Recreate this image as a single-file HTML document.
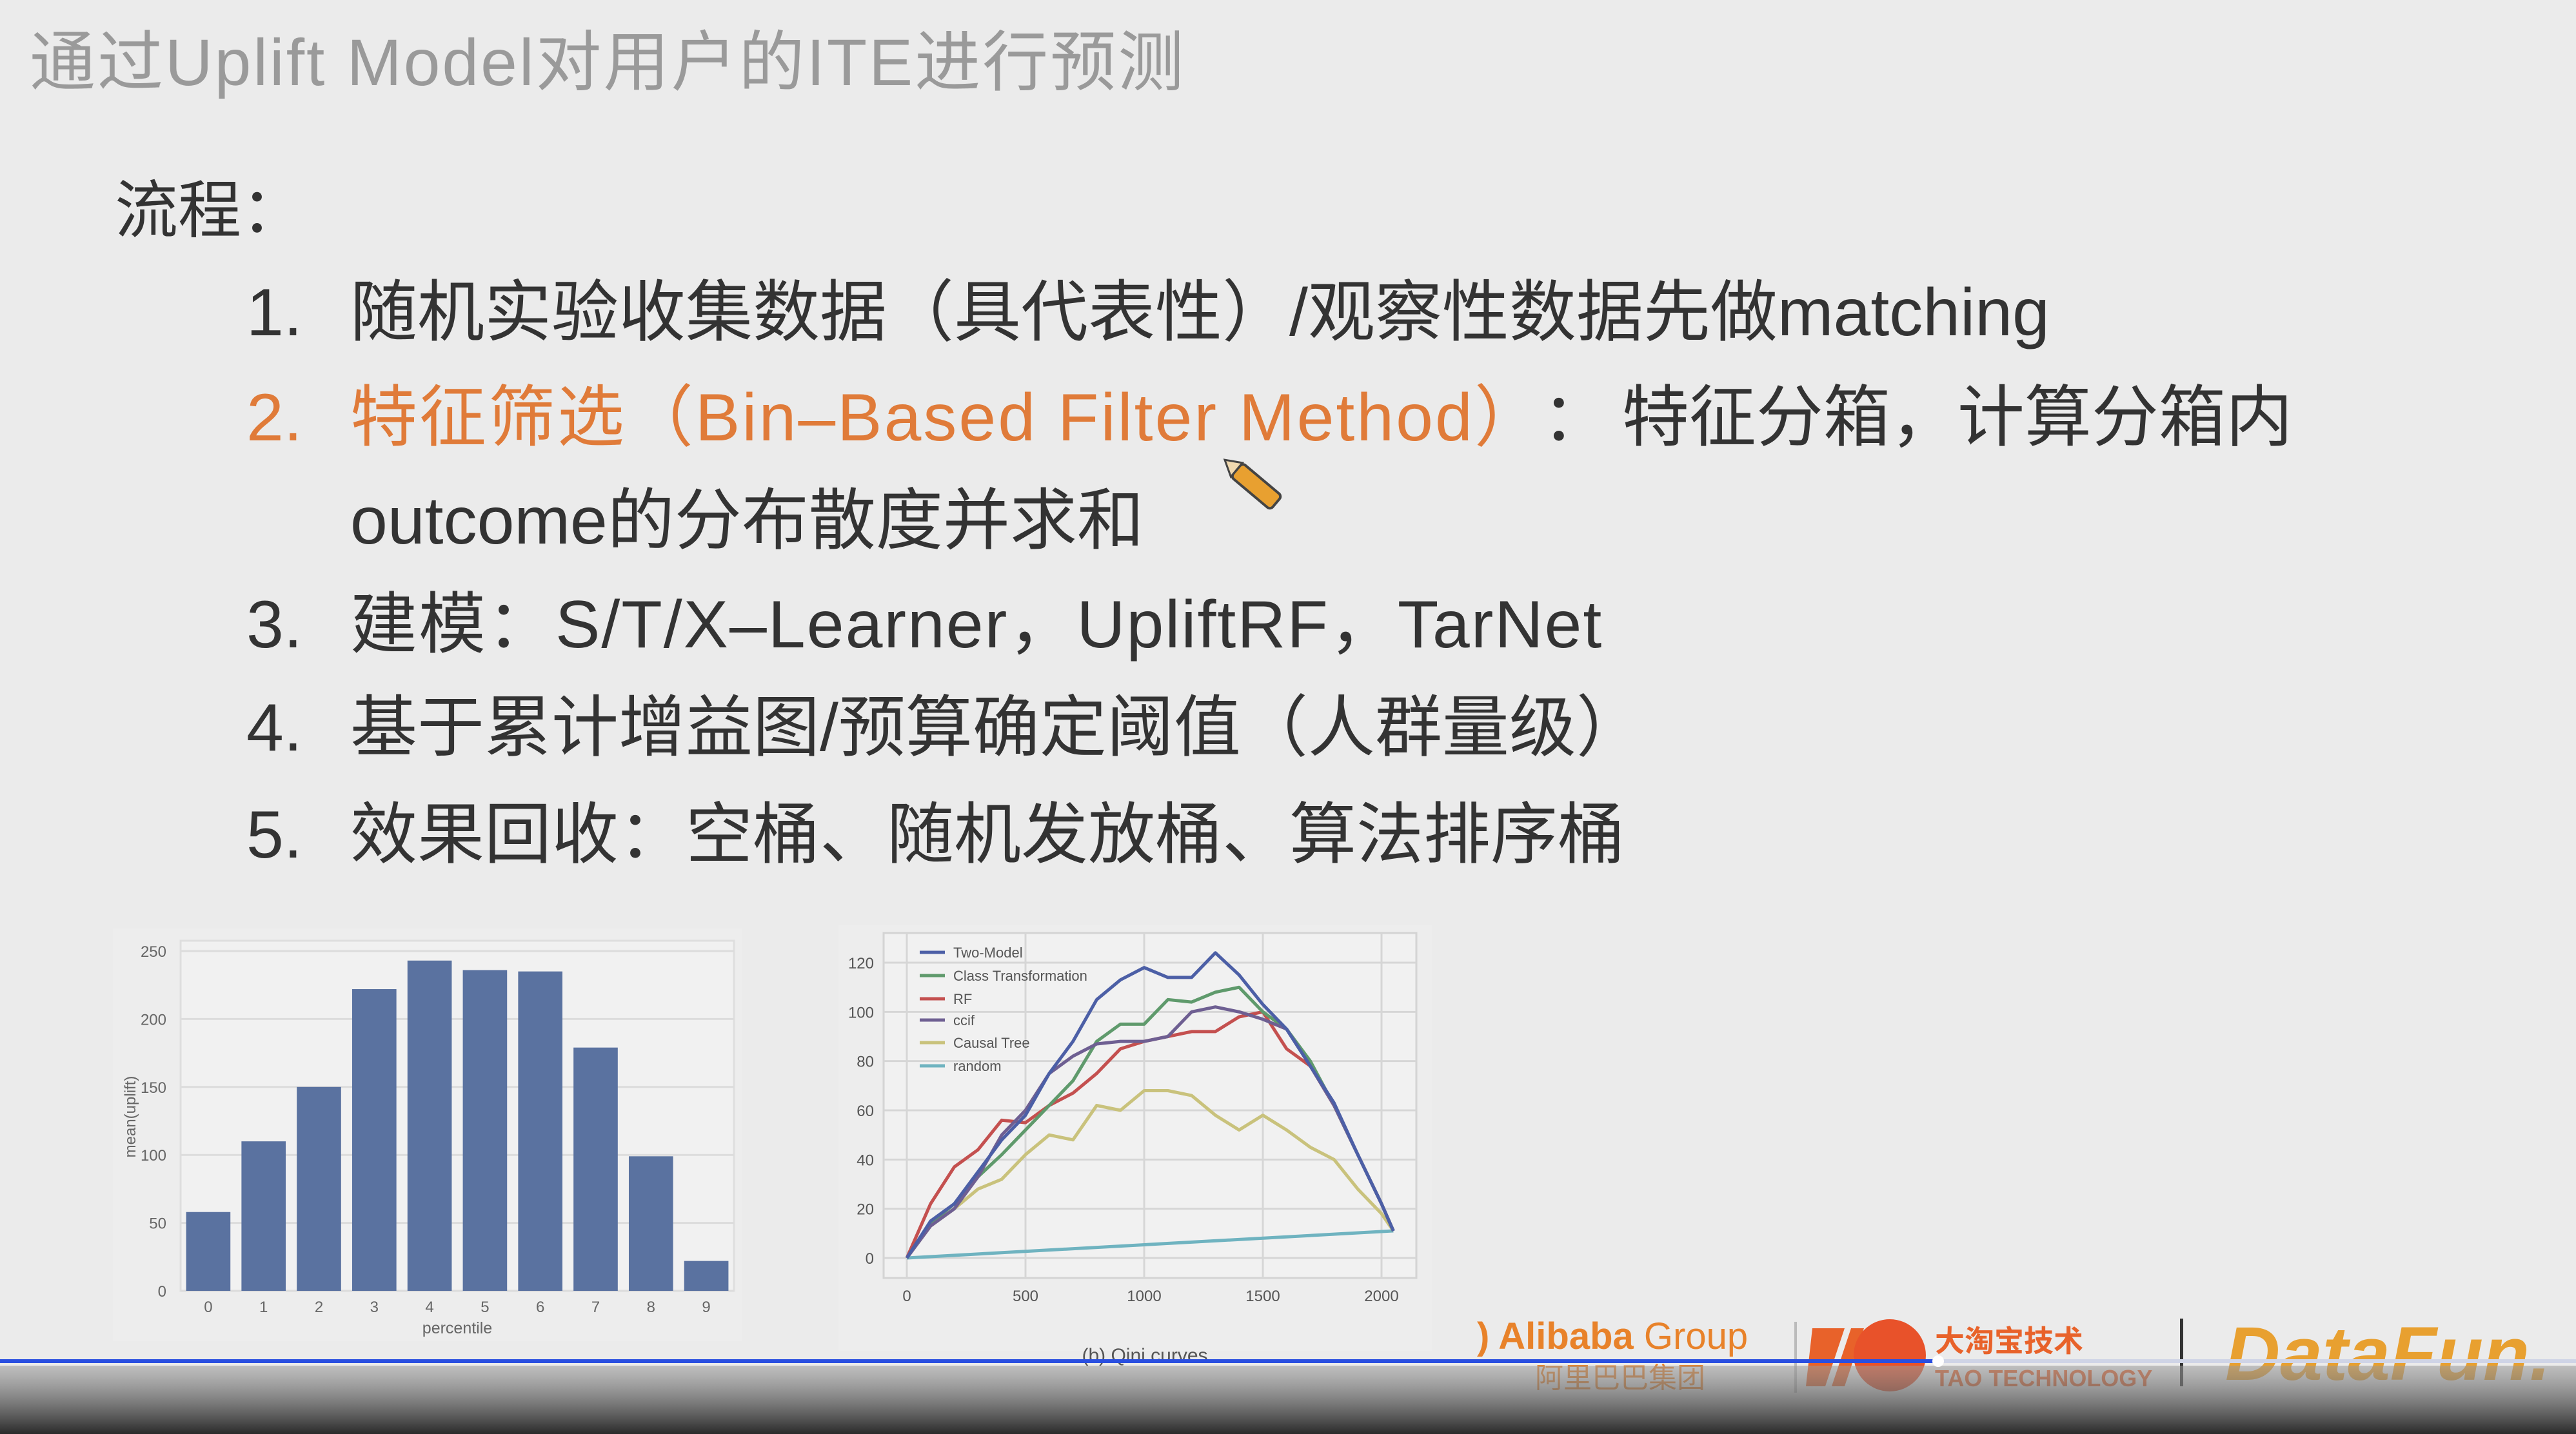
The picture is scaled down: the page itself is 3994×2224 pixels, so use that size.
<!DOCTYPE html>
<html><head><meta charset="utf-8"><style>
html,body{margin:0;padding:0;background:#ebebeb;}
svg{display:block;}
text{font-family:"Liberation Sans","Noto Sans CJK SC",sans-serif;}
</style></head><body>
<svg id="root" width="3994" height="2224" viewBox="0 0 3994 2224" xmlns="http://www.w3.org/2000/svg">
<defs>
<linearGradient id="bottomGrad" x1="0" y1="0" x2="0" y2="1">
<stop offset="0" stop-color="#9a9a9a" stop-opacity="0.55"/>
<stop offset="1" stop-color="#2a2a2a" stop-opacity="1"/>
</linearGradient>
</defs>
<rect x="0" y="0" width="3994" height="2224" fill="#ebebeb"/>

<text x="46" y="132" font-size="102" letter-spacing="3" fill="#9a9a9a">通过Uplift Model对用户的ITE进行预测</text>
<text x="178" y="360" font-size="98" fill="#333">流程：</text>

<g font-size="104" fill="#333">
<text x="382" y="520">1.</text>
<text x="543" y="520">随机实验收集数据（具代表性）/观察性数据先做matching</text>
<text x="382" y="683" fill="#e07b39">2.</text>
<text x="543" y="683"><tspan fill="#e07b39" letter-spacing="3">特征筛选（Bin–Based Filter Method）</tspan><tspan dx="50">：</tspan><tspan dx="20">特征分箱，计算分箱内</tspan></text>
<text x="543" y="843">outcome的分布散度并求和</text>
<text x="382" y="1004">3.</text>
<text x="543" y="1004" letter-spacing="2">建模：S/T/X–Learner，UpliftRF，TarNet</text>
<text x="382" y="1164">4.</text>
<text x="543" y="1164">基于累计增益图/预算确定阈值（人群量级）</text>
<text x="382" y="1330">5.</text>
<text x="543" y="1330">效果回收：空桶、随机发放桶、算法排序桶</text>
</g>
<g transform="translate(1925,735) rotate(40)">
<rect x="-10" y="-14" width="80" height="28" rx="6" fill="#e8a030" stroke="#444" stroke-width="4"/>
<polygon points="-10,-14 -34,0 -10,14" fill="#f0d9b0" stroke="#444" stroke-width="3"/>
</g>

<!-- bar chart -->
<rect x="175" y="1440" width="975" height="640" fill="#ededed"/>
<g id="barChart"></g>

<!-- qini chart -->
<rect x="1300" y="1435" width="920" height="660" fill="#ededed"/>
<g id="qiniChart"></g>
<text x="1775" y="2112" font-size="30" fill="#555" text-anchor="middle" font-family="Liberation Serif,serif">(b) Qini curves</text>

<!-- logos -->
<g>
<text x="2290" y="2092" font-size="58" font-weight="bold" fill="#e8822a">) Alibaba <tspan font-weight="normal">Group</tspan></text>
<text x="2380" y="2152" font-size="44" fill="#e8822a">阿里巴巴集团</text>
<rect x="2782" y="2050" width="4" height="110" fill="#bbb"/>
<polygon points="2810,2060 2860,2060 2830,2150 2800,2150" fill="#e8622a"/>
<polygon points="2870,2060 2890,2060 2860,2150 2840,2150" fill="#e8622a"/>
<circle cx="2930" cy="2102" r="56" fill="#e8522a"/>
<text x="3000" y="2096" font-size="46" font-weight="bold" fill="#e8622a">大淘宝技术</text>
<text x="3000" y="2150" font-size="36" font-weight="bold" fill="#e8622a">TAO TECHNOLOGY</text>
<rect x="3380" y="2045" width="5" height="105" fill="#333"/>
<text x="3450" y="2140" font-size="118" font-weight="bold" font-style="italic" fill="#e8a030">DataFun.</text>
</g>

<rect x="0" y="2118" width="3994" height="106" fill="url(#bottomGrad)"/>
<rect x="0" y="2108" width="3994" height="6" fill="#cfd4e6"/>
<rect x="0" y="2108" width="3005" height="6" fill="#2a4fe0"/>
<circle cx="3005" cy="2111" r="9" fill="#fff"/>
</svg>
<script>
const NS="http://www.w3.org/2000/svg";
// ---- bar chart data ----
const barCategories=["0","1","2","3","4","5","6","7","8","9"];
const barValues=[58,110,150,222,243,236,235,179,99,22];
const barTicks=[0,50,100,150,200,250];
// ---- qini data ----
const qiniX=[0,100,200,300,400,500,600,700,800,900,1000,1100,1200,1300,1400,1500,1600,1700,1800,1900,2000,2050];
const twoModel=[0,15,22,35,48,58,75,88,105,113,118,114,114,124,115,103,93,78,63,42,22,11];
const classTrans=[0,14,22,33,42,52,62,72,88,95,95,105,104,108,110,100,93,80,62,42,22,11];
const rfVals=[0,22,37,44,56,55,62,67,75,85,88,90,92,92,98,100,85,78,62,42,22,11];
const ccifVals=[0,13,20,33,50,60,75,82,87,88,88,90,100,102,100,97,93,78,62,42,22,11];
const causalTree=[0,13,20,28,32,42,50,48,62,60,68,68,66,58,52,58,52,45,40,28,18,11];
const randomX=[0,2050];
const randomVals=[0,11];
const qiniXTicks=[0,500,1000,1500,2000];
const qiniYTicks=[0,20,40,60,80,100,120];
const seriesNames=["Two-Model","Class Transformation","RF","ccif","Causal Tree","random"];

function mk(tag,attrs,parent){const e=document.createElementNS(NS,tag);for(const k in attrs)e.setAttribute(k,attrs[k]);parent.appendChild(e);return e;}

// bar chart
(function(){
const g=document.getElementById('barChart');
const L=280,R=1138,T=1459,B=2002;
const y=v=>B-v*(B-1475)/250;
const band=(R-L)/barCategories.length;
const x=i=>L+band*(i+0.5);
mk('rect',{x:L,y:T,width:R-L,height:B-T,fill:'#f1f1f1',stroke:'#dedede','stroke-width':3},g);
barTicks.forEach(t=>{
 const ln=mk('line',{x1:L,x2:R,y1:y(t),y2:y(t),stroke:'#dcdcdc','stroke-width':3},g);
 
 
 const tx=mk('text',{x:L-22,y:y(t)+9,'font-size':24,fill:'#666','text-anchor':'end'},g);tx.textContent=t;
 
 
});
barValues.forEach((v,i)=>{
 const r=mk('rect',{x:x(i)-band*0.4,y:y(v),width:band*0.8,height:B-y(v),fill:'#5a72a0'},g);
 
 
 const tx=mk('text',{x:x(i),y:2035,'font-size':24,fill:'#666','text-anchor':'middle'},g);tx.textContent=barCategories[i];
 
 
});
const xl=mk('text',{x:(L+R)/2,y:2068,'font-size':25,fill:'#666','text-anchor':'middle'},g);xl.textContent='percentile';


const yl=mk('text',{x:0,y:0,'font-size':24,fill:'#666','text-anchor':'middle',transform:'translate(210,1732) rotate(-90)'},g);yl.textContent='mean(uplift)';


})();

// qini chart
(function(){
const g=document.getElementById('qiniChart');
const L=1370,R=2196,T=1447,B=1982;
const x=v=>1406+v*(2142-1406)/2000;
const y=v=>1951-v*(1951-1493)/120;
mk('rect',{x:L,y:T,width:R-L,height:B-T,fill:'#f1f1f1',stroke:'#d4d4d4','stroke-width':3},g);
qiniXTicks.forEach(t=>{
 const ln=mk('line',{x1:x(t),x2:x(t),y1:T,y2:B,stroke:'#d6d6d6','stroke-width':3},g);
 
 
 const tx=mk('text',{x:x(t),y:2018,'font-size':24,fill:'#555','text-anchor':'middle'},g);tx.textContent=t;
 
 
});
qiniYTicks.forEach(t=>{
 const ln=mk('line',{x1:L,x2:R,y1:y(t),y2:y(t),stroke:'#d6d6d6','stroke-width':3},g);
 
 
 const tx=mk('text',{x:1355,y:y(t)+9,'font-size':24,fill:'#555','text-anchor':'end'},g);tx.textContent=t;
 
 
});
const series=[
 {xs:randomX,ys:randomVals,c:'#6fb3c0'},
 {xs:qiniX,ys:causalTree,c:'#c9c27c'},
 {xs:qiniX,ys:rfVals,c:'#c4504f'},
 {xs:qiniX,ys:classTrans,c:'#5f9a6c'},
 {xs:qiniX,ys:ccifVals,c:'#6e5f92'},
 {xs:qiniX,ys:twoModel,c:'#4c5fa6'}
];
const names=["random","Causal Tree","RF","Class Transformation","ccif","Two-Model"];
series.forEach((s,k)=>{
 const d=s.xs.map((xv,i)=>(i?'L':'M')+x(xv).toFixed(1)+' '+y(s.ys[i]).toFixed(1)).join(' ');
 const p=mk('path',{d:d,fill:'none',stroke:s.c,'stroke-width':5,'stroke-linejoin':'round'},g);
 
 
});
const legColors=['#4c5fa6','#5f9a6c','#c4504f','#6e5f92','#c9c27c','#6fb3c0'];
const legY=[1477,1513,1549,1582,1617,1653];
seriesNames.forEach((n,i)=>{
 const ln=mk('line',{x1:1426,x2:1465,y1:legY[i],y2:legY[i],stroke:legColors[i],'stroke-width':5},g);
 
 
 const tx=mk('text',{x:1478,y:legY[i]+8,'font-size':22,fill:'#555'},g);tx.textContent=n;
 
 
});
})();
</script>
</body></html>
